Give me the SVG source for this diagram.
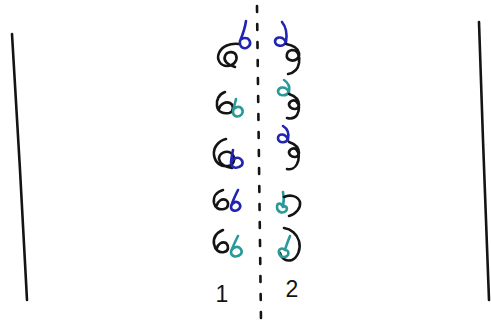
<svg xmlns="http://www.w3.org/2000/svg" width="491" height="321" viewBox="0 0 491 321">
<style>
.s{fill:none;stroke-linecap:round;stroke-linejoin:round;stroke-width:2.6}
.k{stroke:#141414}
.b{stroke:#2024b0}
.t{stroke:#2a9a98}
.lbl{font-family:"Liberation Sans",Arial,sans-serif;font-size:23px;fill:#141414;text-anchor:middle}
</style>
<rect width="491" height="321" fill="#ffffff"/>
<g id="walls">
<path class="s k" d="M12,34 L20,170 L27,300"/>
<path class="s k" d="M479,22 L483,140 L489,300"/>
</g>
<g id="divider">
<path class="s k" d="M257,6 L261,321" stroke-dasharray="6 12"/>
</g>
<g id="row1-left">
<path class="s k" d="M239,44 C230,43 222,46 219,53 C216,60 221,66 227,66 C234,66 238,60 236,55 C234,51 227,51 225,56 C223,61 228,65 235,67"/>
<path class="s b" d="M246,21 C245,28 243,34 240,41 C239,47 244,50 248,47 C252,44 250,38 245,38 C242,38 240,40 240,41"/>
</g>
<g id="row1-right">
<path class="s b" d="M286,43 C284,36 276,36 275,41 C275,46 283,48 286,42 C287,36 287,28 282,22"/>
<path class="s k" d="M286,44 C292,45 298,48 299,53 C300,58 295,62 290,60 C285,58 286,51 292,50 C298,50 300,56 299,63 C298,69 294,73 288,74"/>
</g>
<g id="row2-left">
<path class="s k" d="M225,92 C219,94 216,100 217,106 C218,112 223,114 229,113 C234,112 234,105 230,103 C226,101 220,104 219,109"/>
<path class="s t" d="M236,99 C235,104 233,109 233,112 C233,117 239,118 242,114 C244,110 241,106 237,107 C234,108 233,110 233,112"/>
</g>
<g id="row2-right">
<path class="s t" d="M289,93 C287,86 279,86 278,91 C278,96 286,97 289,92 C290,87 289,83 284,80"/>
<path class="s k" d="M289,94 C295,96 299,100 299,105 C298,110 293,110 290,107 C287,103 292,99 296,101 C300,105 299,111 297,115 C295,118 291,119 287,118"/>
</g>
<g id="row3-left">
<path class="s k" d="M226,139 C218,141 213,148 214,155 C215,163 221,167 228,166 C235,165 236,157 231,153 C226,150 219,153 219,159 C220,164 226,167 232,168"/>
<path class="s b" d="M233,150 C232,155 231,160 231,163 C232,169 238,169 242,165 C244,161 240,157 236,158 C233,159 231,161 231,163"/>
</g>
<g id="row3-right">
<path class="s b" d="M288,140 C286,133 278,133 278,138 C278,143 286,144 288,139 C289,134 288,129 283,126"/>
<path class="s k" d="M289,142 C295,144 299,148 299,153 C298,158 293,158 290,155 C287,151 292,147 296,149 C300,153 299,160 297,164 C295,168 291,170 287,169"/>
</g>
<g id="row4-left">
<path class="s k" d="M223,190 C216,192 213,197 214,203 C215,208 219,210 224,209 C229,208 229,202 226,200 C222,198 218,201 217,205"/>
<path class="s b" d="M238,190 C235,196 232,202 231,207 C231,211 236,212 239,209 C242,206 239,201 235,202 C233,203 231,205 231,207"/>
</g>
<g id="row4-right">
<path class="s t" d="M283,192 C284,197 284,202 283,207 C281,202 277,203 277,207 C277,212 282,214 286,211 C288,208 286,205 283,207"/>
<path class="s k" d="M284,197 C290,194 298,196 300,202 C301,208 296,214 289,216"/>
</g>
<g id="row5-left">
<path class="s k" d="M223,230 C216,233 213,238 214,244 C215,250 219,253 224,252 C229,251 229,246 226,243 C222,241 218,244 217,248"/>
<path class="s t" d="M238,236 C235,242 232,248 231,252 C231,257 237,258 241,254 C243,251 240,246 236,247 C233,248 231,250 231,252"/>
</g>
<g id="row5-right">
<path class="s k" d="M284,228 C291,229 297,234 299,241 C301,249 298,257 292,260 C286,262 281,258 280,253"/>
<path class="s t" d="M290,236 C288,241 286,246 285,250 C282,247 278,249 279,253 C280,258 286,258 288,255 C289,252 288,250 285,250"/>
</g>
<g id="labels">
<text class="lbl" x="222" y="302">1</text>
<text class="lbl" x="292" y="297">2</text>
</g>
</svg>
